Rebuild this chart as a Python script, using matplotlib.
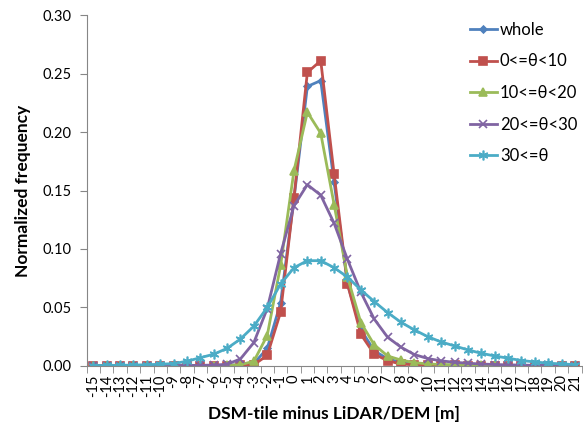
import numpy as np
import matplotlib
matplotlib.use("Agg")
import matplotlib.pyplot as plt

plt.rcParams["font.family"] = ["Lato", "DejaVu Sans"]

# x categories: DSM-tile minus LiDAR/DEM [m]
diff = list(range(-15, 22))

whole = [0.0, 0.0, 0.0, 0.0, 0.0, 0.0, 0.0, 0.0, 0.0002, 0.0003, 0.0005, 0.001, 0.002, 0.015, 0.054,
         0.143, 0.239, 0.244, 0.157, 0.070, 0.031, 0.013, 0.006, 0.003, 0.002, 0.0012, 0.0008, 0.0006,
         0.0005, 0.0004, 0.0003, 0.0003, 0.0002, 0.0002, 0.0002, 0.0001, 0.0001]
theta_0_10 = [0.0, 0.0, 0.0, 0.0, 0.0, 0.0, 0.0, 0.0, 0.0, 0.0002, 0.0003, 0.0005, 0.001, 0.009, 0.046,
              0.144, 0.251, 0.261, 0.164, 0.070, 0.027, 0.010, 0.0045, 0.0015, 0.001, 0.0007, 0.0005,
              0.0004, 0.0003, 0.0003, 0.0002, 0.0002, 0.0002, 0.0001, 0.0001, 0.0001, 0.0001]
theta_10_20 = [0.0, 0.0, 0.0, 0.0, 0.0, 0.0, 0.0, 0.0, 0.0002, 0.0003, 0.0005, 0.001, 0.004, 0.026, 0.086,
               0.167, 0.217, 0.199, 0.138, 0.076, 0.037, 0.018, 0.0085, 0.005, 0.0028, 0.0017, 0.0012,
               0.0009, 0.0007, 0.0005, 0.0004, 0.0003, 0.0003, 0.0002, 0.0002, 0.0002, 0.0001]
theta_20_30 = [0.0, 0.0, 0.0, 0.0, 0.0, 0.0002, 0.0003, 0.0004, 0.0005, 0.0007, 0.0014, 0.006, 0.020, 0.049,
               0.096, 0.137, 0.155, 0.146, 0.122, 0.091, 0.063, 0.040, 0.0245, 0.016, 0.0097, 0.0063,
               0.0043, 0.0031, 0.0023, 0.0016, 0.0012, 0.0009, 0.0007, 0.0005, 0.0004, 0.0003, 0.0002]
theta_30 = [0.0003, 0.0004, 0.0005, 0.0007, 0.001, 0.0014, 0.002, 0.004, 0.007, 0.010, 0.015, 0.023, 0.034,
            0.050, 0.070, 0.084, 0.090, 0.090, 0.084, 0.076, 0.065, 0.055, 0.0456, 0.0373, 0.0308, 0.025,
            0.0205, 0.0171, 0.0137, 0.0108, 0.0085, 0.0066, 0.0046, 0.0034, 0.0023, 0.0017, 0.0011]

# (label, values, colour, marker, size) - excel default palette
SERIES = [
    ("whole", whole, "#4F81BD", "D", 3.5),
    ("0<=θ<10", theta_0_10, "#C0504D", "s", 5.5),
    ("10<=θ<20", theta_10_20, "#9BBB59", "^", 6),
    ("20<=θ<30", theta_20_30, "#8064A2", "x", 6),
    ("30<=θ", theta_30, "#4BACC6", (6, 2, 0), 7),
]

fig = plt.figure(figsize=(5.83, 4.32), dpi=100)
ax = fig.add_axes([0.1486, 0.153, 0.849, 0.812])

x = np.arange(len(diff))
for name, vals, col, mk, ms in SERIES:
    ax.plot(x, vals, color=col, lw=2, marker=mk, ms=ms, mec=col, mfc=col, mew=1.2, label=name)

ax.set_xlim(-0.5, len(diff) - 0.5)
ax.set_ylim(0, 0.30)
yt = np.arange(0, 0.301, 0.05)
ax.set_yticks(yt)
ax.set_yticklabels([f"{v:.2f}" for v in yt])
ax.set_xticks(x)
ax.set_xticklabels([str(d) for d in diff], rotation=90, va="top")
ax.set_xticks(np.arange(-0.5, len(diff), 1), minor=True)
ax.tick_params(axis="x", which="major", length=0, pad=6, labelsize=10.5)
ax.tick_params(axis="x", which="minor", length=5, color="#868686", direction="out")
ax.tick_params(axis="y", length=5, color="#868686", labelsize=10.5, pad=6)

for s in ("top", "right"):
    ax.spines[s].set_visible(False)
ax.spines["left"].set_color("#868686")
ax.spines["bottom"].set_color("#868686")

ax.set_ylabel("Normalized frequency", fontweight="bold", fontsize=12.5, labelpad=8)
ax.set_xlabel("DSM-tile minus LiDAR/DEM [m]", fontweight="bold", fontsize=12.5, labelpad=7)

ax.legend(loc="upper left", bbox_to_anchor=(470 / 583, 1 - 22 / 432), bbox_transform=fig.transFigure,
          frameon=False, fontsize=12, labelspacing=0.93, handlelength=1.6, handletextpad=0.2,
          borderaxespad=0, borderpad=0)

fig.savefig("out.png", dpi=100)
